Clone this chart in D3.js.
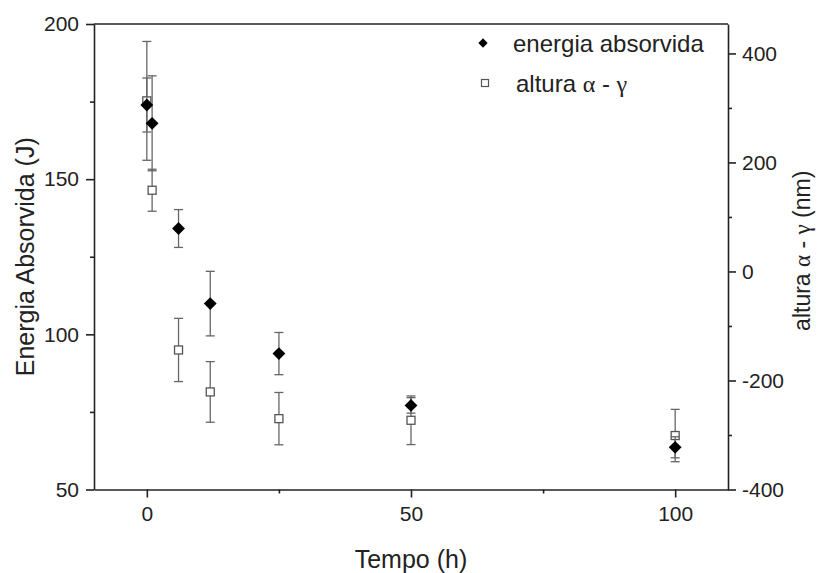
<!DOCTYPE html>
<html>
<head>
<meta charset="utf-8">
<script src="https://cdn.jsdelivr.net/npm/d3@7"></script>
<style>
  body { margin: 0; background: #fff; }
  svg { font-family: "Liberation Sans", Arial, sans-serif; }
  .axis path, .axis line { stroke: #222; stroke-width: 1.6; }
  .axis text { fill: #222; font-size: 21px; font-family: "Liberation Sans", Arial, sans-serif; }
  .title { fill: #222; }
</style>
</head>
<body>
<div id="chart"></div>
<script>
// data
const tempo = [0, 1, 6, 12, 25, 50, 100];
const energia = [173.9, 168.0, 134.1, 109.9, 93.8, 77.1, 63.6];
const energiaErr = [8.7, 15.3, 6.1, 10.4, 6.8, 2.5, 3.4];
const altura = [313, 149, -144, -221, -270, -273, -301];
const alturaErr = [109, 38.5, 58, 55.6, 48, 44.6, 48];

const ticksX = [0, 50, 100], minorX = [25, 75];
const ticksL = [50, 100, 150, 200], minorL = [75, 125, 175];
const ticksR = [-400, -200, 0, 200, 400], minorR = [-300, -100, 100, 300];

const width = 817, height = 573;
const margin = {top: 24, right: 89, bottom: 83.5, left: 94};

const svg = d3.select('#chart').append('svg')
  .attr('width', width).attr('height', height);

const x = d3.scaleLinear([-10, 110], [margin.left, width - margin.right]);
const yL = d3.scaleLinear([50, 200], [height - margin.bottom, margin.top]);
const yR = d3.scaleLinear([-400, 454], [height - margin.bottom, margin.top]);

// plain hyphen for negatives, like the original
const fmt = d => String(d);

// frame top line
svg.append('line')
  .attr('x1', margin.left).attr('x2', width - margin.right)
  .attr('y1', margin.top).attr('y2', margin.top)
  .attr('stroke', '#222').attr('stroke-width', 1.6);

// minor ticks first, then major axes
const bottom = height - margin.bottom, right = width - margin.right;
svg.append('g').attr('class', 'axis').attr('transform', `translate(0,${bottom})`)
  .call(d3.axisBottom(x).tickValues(minorX).tickSize(4).tickFormat(''))
  .call(g => g.select('.domain').remove());
svg.append('g').attr('class', 'axis').attr('transform', `translate(${margin.left},0)`)
  .call(d3.axisLeft(yL).tickValues(minorL).tickSize(4).tickFormat(''))
  .call(g => g.select('.domain').remove());
svg.append('g').attr('class', 'axis').attr('transform', `translate(${right},0)`)
  .call(d3.axisRight(yR).tickValues(minorR).tickSize(4).tickFormat(''))
  .call(g => g.select('.domain').remove());

svg.append('g').attr('class', 'axis').attr('transform', `translate(0,${bottom})`)
  .call(d3.axisBottom(x).tickValues(ticksX).tickFormat(fmt).tickSize(8).tickPadding(9).tickSizeOuter(0));
svg.append('g').attr('class', 'axis').attr('transform', `translate(${margin.left},0)`)
  .call(d3.axisLeft(yL).tickValues(ticksL).tickFormat(fmt).tickSize(8).tickPadding(7).tickSizeOuter(0));
svg.append('g').attr('class', 'axis').attr('transform', `translate(${right},0)`)
  .call(d3.axisRight(yR).tickValues(ticksR).tickFormat(fmt).tickSize(8).tickPadding(6).tickSizeOuter(0));

// axis titles
svg.append('text').attr('class', 'title')
  .attr('x', x(50)).attr('y', 568)
  .attr('text-anchor', 'middle').style('font-size', '25px')
  .text('Tempo (h)');

svg.append('text').attr('class', 'title')
  .attr('transform', `translate(34,${(margin.top + bottom) / 2})rotate(-90)`)
  .attr('text-anchor', 'middle').style('font-size', '25px')
  .text('Energia Absorvida (J)');

const rTitle = svg.append('text').attr('class', 'title')
  .attr('transform', `translate(810,${(margin.top + bottom) / 2 - 6})rotate(-90)`)
  .attr('text-anchor', 'middle').style('font-size', '23px');
rTitle.append('tspan').text('altura ');
rTitle.append('tspan').style('font-family', '"Liberation Serif", serif').text('α');
rTitle.append('tspan').text(' - ');
rTitle.append('tspan').style('font-family', '"Liberation Serif", serif').text('γ');
rTitle.append('tspan').text(' (nm)');

// error bars helper
function errorBars(g, ys, errs, scale, color) {
  const cap = 4.5;
  const bars = g.selectAll('g.err').data(tempo).join('g').attr('class', 'err')
    .attr('stroke', color).attr('stroke-width', 1.3);
  bars.append('line')
    .attr('x1', d => x(d)).attr('x2', d => x(d))
    .attr('y1', (d, i) => scale(ys[i] + errs[i]))
    .attr('y2', (d, i) => scale(ys[i] - errs[i]));
  bars.append('line')
    .attr('x1', d => x(d) - cap).attr('x2', d => x(d) + cap)
    .attr('y1', (d, i) => scale(ys[i] + errs[i]))
    .attr('y2', (d, i) => scale(ys[i] + errs[i]));
  bars.append('line')
    .attr('x1', d => x(d) - cap).attr('x2', d => x(d) + cap)
    .attr('y1', (d, i) => scale(ys[i] - errs[i]))
    .attr('y2', (d, i) => scale(ys[i] - errs[i]));
}

// altura (open squares, right axis)
const gA = svg.append('g');
errorBars(gA, altura, alturaErr, yR, '#666');
gA.selectAll('rect').data(tempo).join('rect')
  .attr('x', d => x(d) - 4).attr('y', (d, i) => yR(altura[i]) - 4)
  .attr('width', 8).attr('height', 8)
  .attr('fill', '#fff').attr('stroke', '#555').attr('stroke-width', 1.3);

// energia (black diamonds, left axis)
const gE = svg.append('g');
errorBars(gE, energia, energiaErr, yL, '#666');
const diamond = d3.symbol(d3.symbolDiamond2, 105);
gE.selectAll('path.pt').data(tempo).join('path').attr('class', 'pt')
  .attr('d', diamond)
  .attr('transform', (d, i) => `translate(${x(d)},${yL(energia[i])})`)
  .attr('fill', '#000');

// legend
const legend = svg.append('g');
legend.append('path')
  .attr('d', d3.symbol(d3.symbolDiamond2, 55))
  .attr('transform', 'translate(483,43)').attr('fill', '#000');
legend.append('text').attr('x', 513).attr('y', 52)
  .style('font-size', '24px').attr('fill', '#222')
  .text('energia absorvida');
legend.append('rect')
  .attr('x', 481.5).attr('y', 79.5).attr('width', 7).attr('height', 7)
  .attr('fill', '#fff').attr('stroke', '#555').attr('stroke-width', 1.2);
const t2 = legend.append('text').attr('x', 516).attr('y', 92)
  .style('font-size', '24px').attr('fill', '#222');
t2.append('tspan').text('altura ');
t2.append('tspan').style('font-family', '"Liberation Serif", serif').text('α');
t2.append('tspan').text(' - ');
t2.append('tspan').style('font-family', '"Liberation Serif", serif').text('γ');
</script>
</body>
</html>
